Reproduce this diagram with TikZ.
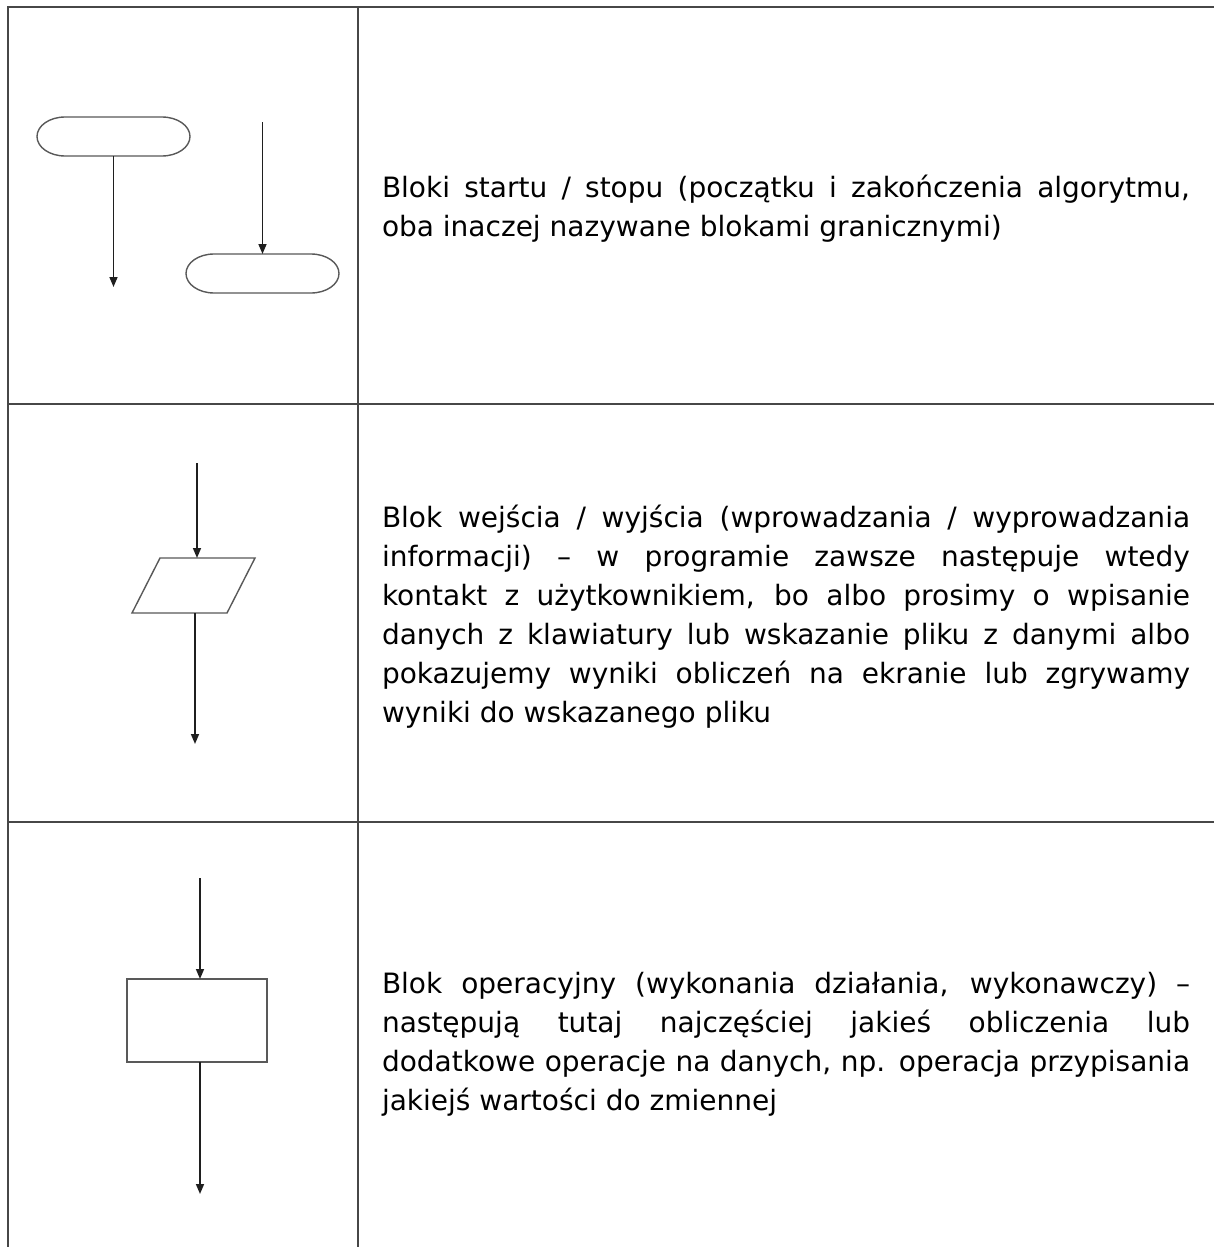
\documentclass[tikz,border=0pt]{standalone}
\usepackage{fontspec}
\setmainfont{DejaVu Sans}
\usetikzlibrary{arrows.meta}
\newcommand\stadiumoutline[1]{%
  \draw[outl] ([xshift=28pt]#1.north west) -- ([xshift=-28pt]#1.north east)
    arc[start angle=90,end angle=-90,x radius=28pt,y radius=19.5pt]
    -- ([xshift=28pt]#1.south west)
    arc[start angle=270,end angle=90,x radius=28pt,y radius=19.5pt] -- cycle;}
\newcommand\firststrut{\tolerance=10000\hyphenpenalty=10000\vrule height 24pt depth 0pt width 0pt\relax}
\begin{document}
\begin{tikzpicture}[x=1pt,y=-1pt,
  grid/.style={line width=1.4pt, draw=black!72},
  conn/.style={line width=1.5pt, draw=black!88, -{Triangle[length=10pt,width=8pt]}},
  outl/.style={line width=1.4pt, draw=black!65},
  term/.style={rectangle, inner sep=0pt, outer sep=0pt, minimum width=153pt, minimum height=39pt},
  iobox/.style={rectangle, inner sep=0pt, outer sep=0pt, minimum width=95pt, minimum height=55pt},
  opbox/.style={rectangle, inner sep=0pt, outer sep=0pt, minimum width=140pt, minimum height=83pt, outl},
  desc/.style={anchor=north west, inner sep=0pt, outer sep=0pt, text width=808pt, align=justify,
    font=\fontsize{28pt}{39pt}\selectfont}
]
\useasboundingbox[fill=white] (0,0) rectangle (1214,1247);
% table rules
\draw[grid] (8,1247) -- (8,7) -- (1214,7);
\draw[grid] (358,7) -- (358,1247);
\draw[grid] (8,404) -- (1214,404);
\draw[grid] (8,822) -- (1214,822);

% row 1: start / stop
\node[term] (start) at (113.5,136.5) {};
\stadiumoutline{start}
\coordinate (out1) at (113.5,287);
\draw[conn] (start.south) -- (out1);
\node[term] (stop) at (262.5,273.5) {};
\stadiumoutline{stop}
\coordinate (in1) at (262.5,122);
\draw[conn] (in1) -- (stop.north);

% row 2: input / output
\node[iobox] (io) at (193.5,585.5) {};
\draw[outl] ([xshift=14pt]io.north west) -- ([xshift=14pt]io.north east)
  -- ([xshift=-14pt]io.south east) -- ([xshift=-14pt]io.south west) -- cycle;
\coordinate (in2) at (197,463);
\draw[conn] (in2) -- ([xshift=3.5pt]io.north);
\coordinate (out2) at (195,744);
\draw[conn] ([xshift=1.5pt]io.south) -- (out2);

% row 3: operation
\node[opbox] (op) at (197,1020.5) {};
\coordinate (in3) at (200,878);
\draw[conn] (in3) -- ([xshift=3pt]op.north);
\coordinate (out3) at (200,1194);
\draw[conn] ([xshift=3pt]op.south) -- (out3);

% descriptions
\node[desc] (t1) at (382,173) {\firststrut Bloki startu / stopu (początku i zakończenia algorytmu,\linebreak
oba inaczej nazywane blokami granicznymi)};
\node[desc] (t2) at (382,503) {\firststrut Blok wejścia / wyjścia (wprowadzania / wyprowadzania\linebreak
informacji) – w programie zawsze następuje wtedy\linebreak
kontakt z użytkownikiem, bo albo prosimy o wpisanie\linebreak
danych z klawiatury lub wskazanie pliku z danymi albo\linebreak
pokazujemy wyniki obliczeń na ekranie lub zgrywamy\linebreak
wyniki do wskazanego pliku};
\node[desc] (t3) at (382,969) {\firststrut Blok operacyjny (wykonania działania, wykonawczy) –\linebreak
następują tutaj najczęściej jakieś obliczenia lub\linebreak
dodatkowe operacje na danych, np. operacja przypisania\linebreak
jakiejś wartości do zmiennej};
\end{tikzpicture}
\end{document}
